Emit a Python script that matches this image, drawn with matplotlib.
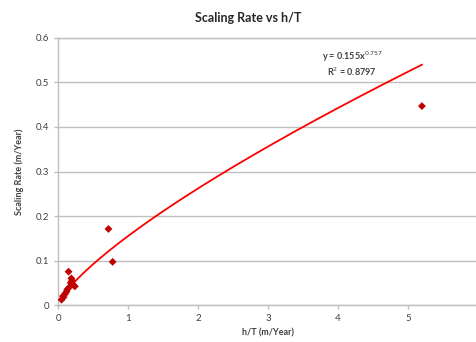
import numpy as np
import matplotlib
matplotlib.use("Agg")
import matplotlib.pyplot as plt

plt.rcParams['font.family'] = ['Lato', 'DejaVu Sans']

ht = [0.05, 0.07, 0.08, 0.10, 0.12, 0.13, 0.15, 0.16, 0.18, 0.19, 0.20, 0.22, 0.24, 0.72, 0.78, 5.20]
rate = [0.012, 0.020, 0.018, 0.025, 0.030, 0.035, 0.075, 0.040, 0.050, 0.060, 0.055, 0.045, 0.042, 0.171, 0.097, 0.447]

# power trend line y = a * x^b
coef_a = 0.155
coef_b = 0.757
r2 = 0.8797

x_ticks = [0, 1, 2, 3, 4, 5, 6]
y_ticks = [0, 0.1, 0.2, 0.3, 0.4, 0.5, 0.6]

fig = plt.figure(figsize=(4.76, 3.42), dpi=100)
ax = fig.add_axes([0.122, 0.108, 0.882, 0.781])

grid_col = '#BFBFBF'
ax.set_xlim(0, 6)
ax.set_ylim(0, 0.6)
ax.set_xticks(x_ticks)
ax.set_yticks(y_ticks)
ax.set_yticklabels([f'{v:g}' for v in y_ticks])
ax.yaxis.grid(True, color=grid_col, linewidth=1)
ax.set_axisbelow(True)
for s in ax.spines.values():
    s.set_color(grid_col)
    s.set_linewidth(1)
ax.tick_params(axis='both', colors=grid_col, labelcolor='#404040', labelsize=7, length=3, width=1)

xs = np.linspace(min(ht), max(ht), 200)
ax.plot(xs, coef_a * xs ** coef_b, color='#FF0000', linewidth=1.3, zorder=2)
ax.scatter(ht, rate, marker='D', s=16, color='#C00000', edgecolors='none', zorder=3)

ax.text(0.70, 0.903, f'y = {coef_a}x$^{{{coef_b}}}$\nR$^2$ = {r2}', transform=ax.transAxes,
        ha='center', va='center', fontsize=6.5, color='#404040', fontweight='bold', linespacing=1.1)

ax.set_xlabel('h/T (m/Year)', fontsize=6.5, fontweight='bold', color='#404040', labelpad=4)
ax.set_ylabel('Scaling Rate (m/Year)', fontsize=6.5, fontweight='bold', color='#404040', labelpad=8)
fig.text(0.521, 0.947, 'Scaling Rate vs h/T', ha='center', va='center', fontsize=9,
         fontweight='bold', color='#262626')

fig.savefig('out.png', dpi=100)
